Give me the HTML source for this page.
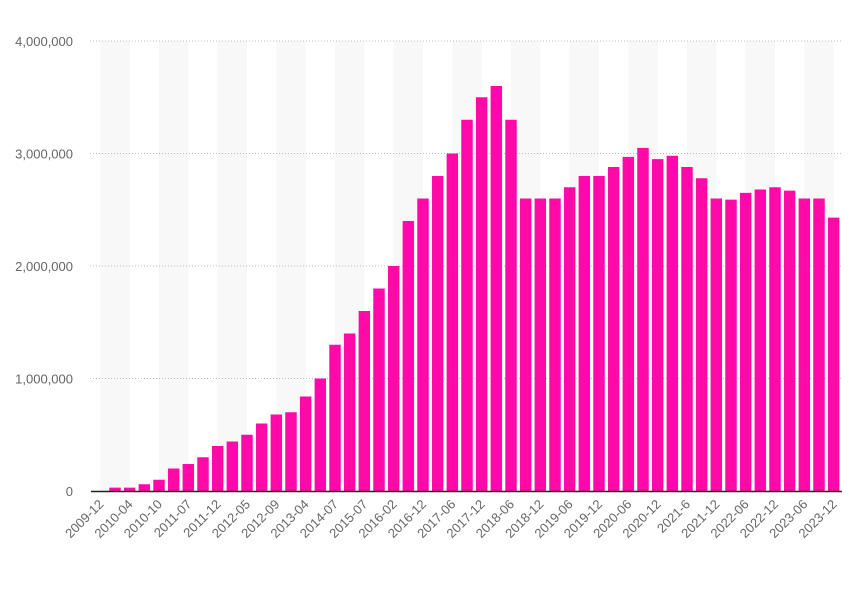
<!DOCTYPE html>
<html><head><meta charset="utf-8"><style>
body{margin:0;background:#fff}
svg text{font-family:"Liberation Sans",sans-serif;fill:#666}
</style></head><body>
<svg id="chart" width="856" height="584" xmlns="http://www.w3.org/2000/svg"></svg>
<script>
const categories=["2009-12","2010-02","2010-04","2010-07","2010-10","2011-02","2011-07","2011-09","2011-12","2012-03","2012-05","2012-07","2012-09","2012-12","2013-04","2013-10","2014-07","2014-12","2015-07","2015-10","2016-02","2016-06","2016-12","2017-03","2017-06","2017-09","2017-12","2018-03","2018-06","2018-09","2018-12","2019-03","2019-06","2019-09","2019-12","2020-03","2020-06","2020-09","2020-12","2021-3","2021-6","2021-9","2021-12","2022-03","2022-06","2022-09","2022-12","2023-03","2023-06","2023-09","2023-12"];
const values=[0,30000,30000,60000,100000,200000,240000,300000,400000,440000,500000,600000,680000,700000,840000,1000000,1300000,1400000,1600000,1800000,2000000,2400000,2600000,2800000,3000000,3300000,3500000,3600000,3300000,2600000,2600000,2600000,2700000,2800000,2800000,2880000,2970000,3050000,2950000,2980000,2880000,2780000,2600000,2590000,2650000,2680000,2700000,2670000,2600000,2600000,2430000];
const yTicks=[0,1000000,2000000,3000000,4000000];
const yTickLabels=["0","1,000,000","2,000,000","3,000,000","4,000,000"];
const svg=document.getElementById('chart');const NS='http://www.w3.org/2000/svg';
const x0=93,x1=841,y0=491,yTop=41,yMax=4000000;
const bw=(x1-x0)/categories.length;
const xc=i=>x0+bw*(i+0.5);
const y=v=>y0-(v/yMax)*(y0-yTop);
function mk(t,a){const e=document.createElementNS(NS,t);for(const k in a)e.setAttribute(k,a[k]);svg.appendChild(e);return e;}
for(let i=0;i+2<categories.length;i+=4){const r=mk('rect',{x:xc(i),y:yTop,width:bw*2,height:y0-yTop,fill:'#f8f8f8'});

}
yTicks.forEach((t,i)=>{
 if(t>0){const l=mk('line',{x1:90,x2:842,y1:y(t),y2:y(t),stroke:'#bbb','stroke-dasharray':'1,2'});
 
 }
 const tx=mk('text',{x:73,y:y(t)+5,'text-anchor':'end','font-size':'13'});tx.textContent=yTickLabels[i];
 
 
});
values.forEach((v,i)=>{
 const r=mk('rect',{x:xc(i)-bw*0.39,y:y(v),width:bw*0.78,height:y0-y(v),fill:'#ff0aa8'});
 
 
});
const ax=mk('line',{x1:x0-2,x2:x1+1,y1:y0+0.5,y2:y0+0.5,stroke:'#222','stroke-width':1.5});


categories.forEach((c,i)=>{
 if(i%2)return;
 const px=xc(i)+4,py=y0+14;
 const t=mk('text',{x:px,y:py,'text-anchor':'end','font-size':'13',transform:`rotate(-45 ${px} ${py})`});t.textContent=c;
 
 
});
</script>
</body></html>
